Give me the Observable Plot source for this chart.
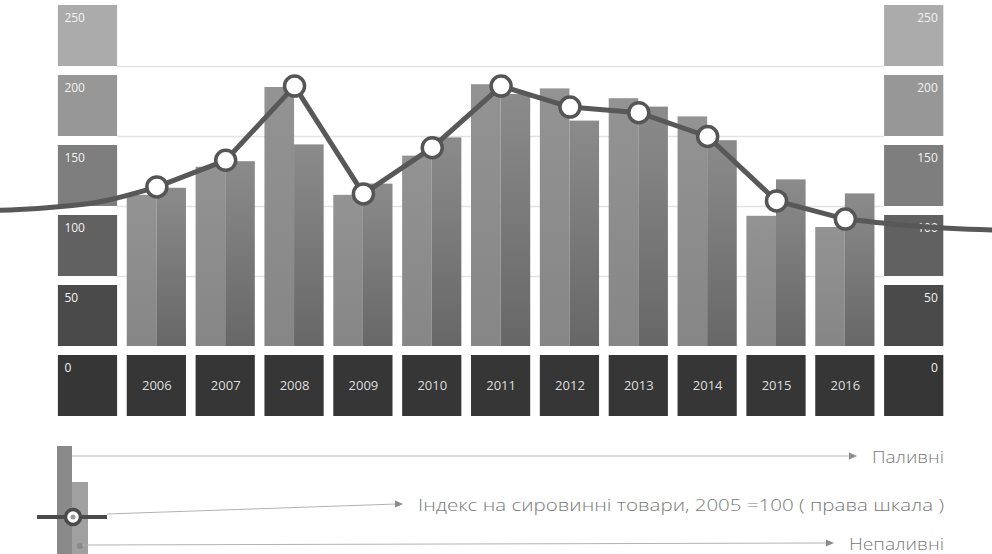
<!DOCTYPE html>
<html>
<head>
<meta charset="utf-8">
<script src="https://cdn.jsdelivr.net/npm/d3@7"></script>
<script src="https://cdn.jsdelivr.net/npm/@observablehq/plot@0.6"></script>
<style>
  html, body { margin: 0; padding: 0; background: #fff; overflow: hidden; }
  svg { display: block; overflow: hidden; }
</style>
</head>
<body>
<div id="chart"></div>
<div id="legend"></div>
<script>
// ---- data ----
const years = [2006, 2007, 2008, 2009, 2010, 2011, 2012, 2013, 2014, 2015, 2016];
const fuel = [108, 128, 185, 108, 136, 187, 184, 177, 164, 93, 85];          // Паливні (left bar)
const nonFuel = [113, 132, 144, 116, 149, 180, 161, 171, 147, 119, 109];     // Непаливні (right bar)
// commodity price index, 2005 = 100 (line continues past both edges of the chart)
const indexYears = [2003, 2005, 2006, 2007, 2008, 2009, 2010, 2011, 2012, 2013, 2014, 2015, 2016, 2017, 2019];
const indexValues = [96, 102, 114, 133, 186, 109, 142, 186, 171, 167, 150, 104, 91, 86, 82];
const tickValues = [0, 50, 100, 150, 200, 250];
const axisSides = [2005, 2017];
const seriesNames = ["Паливні", "Індекс на сировинні товари, 2005 =100 ( права шкала )", "Непаливні"];

// ---- styles ----
const tickColors = ["#363636", "#4a4a4a", "#616161", "#7e7e7e", "#979797", "#ababab"];
const half = 0.43;
const font = "'Open Sans', 'DejaVu Sans', sans-serif";

const bars = years.map((year, i) => ({year, fuel: fuel[i], nonFuel: nonFuel[i]}));
const indexData = indexYears.map((year, i) => ({year, value: indexValues[i]}));
const first = years[0], last = years[years.length - 1];
const dotData = indexData.filter(d => years.includes(d.year));
const blocks = axisSides.flatMap(side => tickValues.map((t, i) => ({side, t, color: tickColors[i]})));
const lineStyle = {x: "year", y: "value", stroke: "#585858", strokeWidth: 5, strokeLinejoin: "round", strokeLinecap: "round"};

const chart = Plot.plot({
  width: 992,
  height: 420,
  margin: 0,
  style: {fontFamily: font, background: "#fff"},
  x: {type: "linear", domain: [2005, 2017], range: [87.5, 913.7], axis: null},
  y: {domain: [-50, 250], range: [416, -4], axis: null},
  color: {type: "identity"},
  marks: [
    Plot.ruleY([50, 100, 150, 200], {x1: () => 2005 + half, x2: () => 2017 - half, stroke: "#e2e2e2", strokeWidth: 1.5}),
    Plot.rect(blocks, {x1: d => d.side - half, x2: d => d.side + half, y1: d => d.t - 50, y2: d => d.t, fill: d => d.color, insetTop: 9}),
    Plot.rect(bars, {x1: d => d.year - half, x2: d => d.year + half, y1: () => -50, y2: () => 0, fill: "#363636", insetTop: 9}),
    Plot.rect(bars, {x1: d => d.year - half, x2: d => d.year, y1: () => 0, y2: "fuel", fill: "url(#gFuel)"}),
    Plot.rect(bars, {x1: d => d.year, x2: d => d.year + half, y1: () => 0, y2: "nonFuel", fill: "url(#gNonFuel)"}),
    Plot.text(years, {x: d => d, y: () => -25, text: d => String(d), fill: "#dedede", fontSize: 13, dy: 4}),
    Plot.text(blocks.filter(d => d.side === axisSides[0]), {x: d => d.side - half, y: "t", text: d => String(d.t), textAnchor: "start", dx: 6, dy: 22, fill: "#f2f2f2", fontSize: 12}),
    Plot.text(blocks.filter(d => d.side === axisSides[1]), {x: d => d.side + half, y: "t", text: d => String(d.t), textAnchor: "end", dx: -6, dy: 22, fill: "#f2f2f2", fontSize: 12}),
    Plot.line(indexData.filter(d => d.year <= first), {...lineStyle, curve: "monotone-x"}),
    Plot.line(indexData.filter(d => d.year >= first && d.year <= last), {...lineStyle, curve: "linear"}),
    Plot.line(indexData.filter(d => d.year >= last), {...lineStyle, curve: "monotone-x"}),
    Plot.dot(dotData, {x: "year", y: "value", r: 10, fill: "#ffffff", stroke: "#555555", strokeWidth: 3.5})
  ]
});

const defs = d3.select(chart).insert("defs", ":first-child");
function grad(id, top, bottom) {
  const g = defs.append("linearGradient").attr("id", id).attr("x1", 0).attr("y1", 0).attr("x2", 0).attr("y2", 1);
  g.append("stop").attr("offset", "0%").attr("stop-color", top);
  g.append("stop").attr("offset", "100%").attr("stop-color", bottom);
}
grad("gFuel", "#939393", "#868686");
grad("gNonFuel", "#8b8b8b", "#676767");
document.getElementById("chart").appendChild(chart);

// ---- legend below the chart ----
const L = d3.select("#legend").append("svg").attr("width", 992).attr("height", 134)
  .style("font-family", font);
L.append("rect").attr("x", 57).attr("y", 26).attr("width", 15).attr("height", 108).attr("fill", "#8a8a8a");
L.append("rect").attr("x", 72).attr("y", 62).attr("width", 16).attr("height", 72).attr("fill", "#a0a0a0");
L.append("circle").attr("cx", 80).attr("cy", 126).attr("r", 3).attr("fill", "#8a8a8a");

const rows = [
  {name: seriesNames[0], x0: 72, y0: 36, ty: 36, w: 72},
  {name: seriesNames[1], x0: 107, y0: 94, ty: 84, w: 526},
  {name: seriesNames[2], x0: 82, y0: 125, ty: 123, w: 95}
];
rows.forEach(r => {
  const start = 944 - r.w;
  L.append("text").attr("x", start).attr("y", r.ty)
    .attr("dominant-baseline", "central").attr("font-size", 17).attr("font-weight", 300)
    .attr("textLength", r.w).attr("lengthAdjust", "spacingAndGlyphs")
    .attr("fill", "#7a7a7a").text(r.name);
  const tip = start - 15;
  const ty = r.ty;
  L.append("line").attr("x1", r.x0).attr("y1", r.y0).attr("x2", tip - 6).attr("y2", ty)
    .attr("stroke", "#b3b3b3").attr("stroke-width", 1);
  L.append("path").attr("d", `M${tip - 8},${ty - 3.5}L${tip},${ty}L${tip - 8},${ty + 3.5}Z`).attr("fill", "#8c8c8c");
});

L.append("line").attr("x1", 37).attr("y1", 97).attr("x2", 107).attr("y2", 97)
  .attr("stroke", "#4a4a4a").attr("stroke-width", 4);
L.append("circle").attr("cx", 73).attr("cy", 97).attr("r", 7.5).attr("fill", "#fff")
  .attr("stroke", "#4a4a4a").attr("stroke-width", 3.5);
L.append("circle").attr("cx", 73).attr("cy", 97).attr("r", 2.5).attr("fill", "#999");
</script>
</body>
</html>
